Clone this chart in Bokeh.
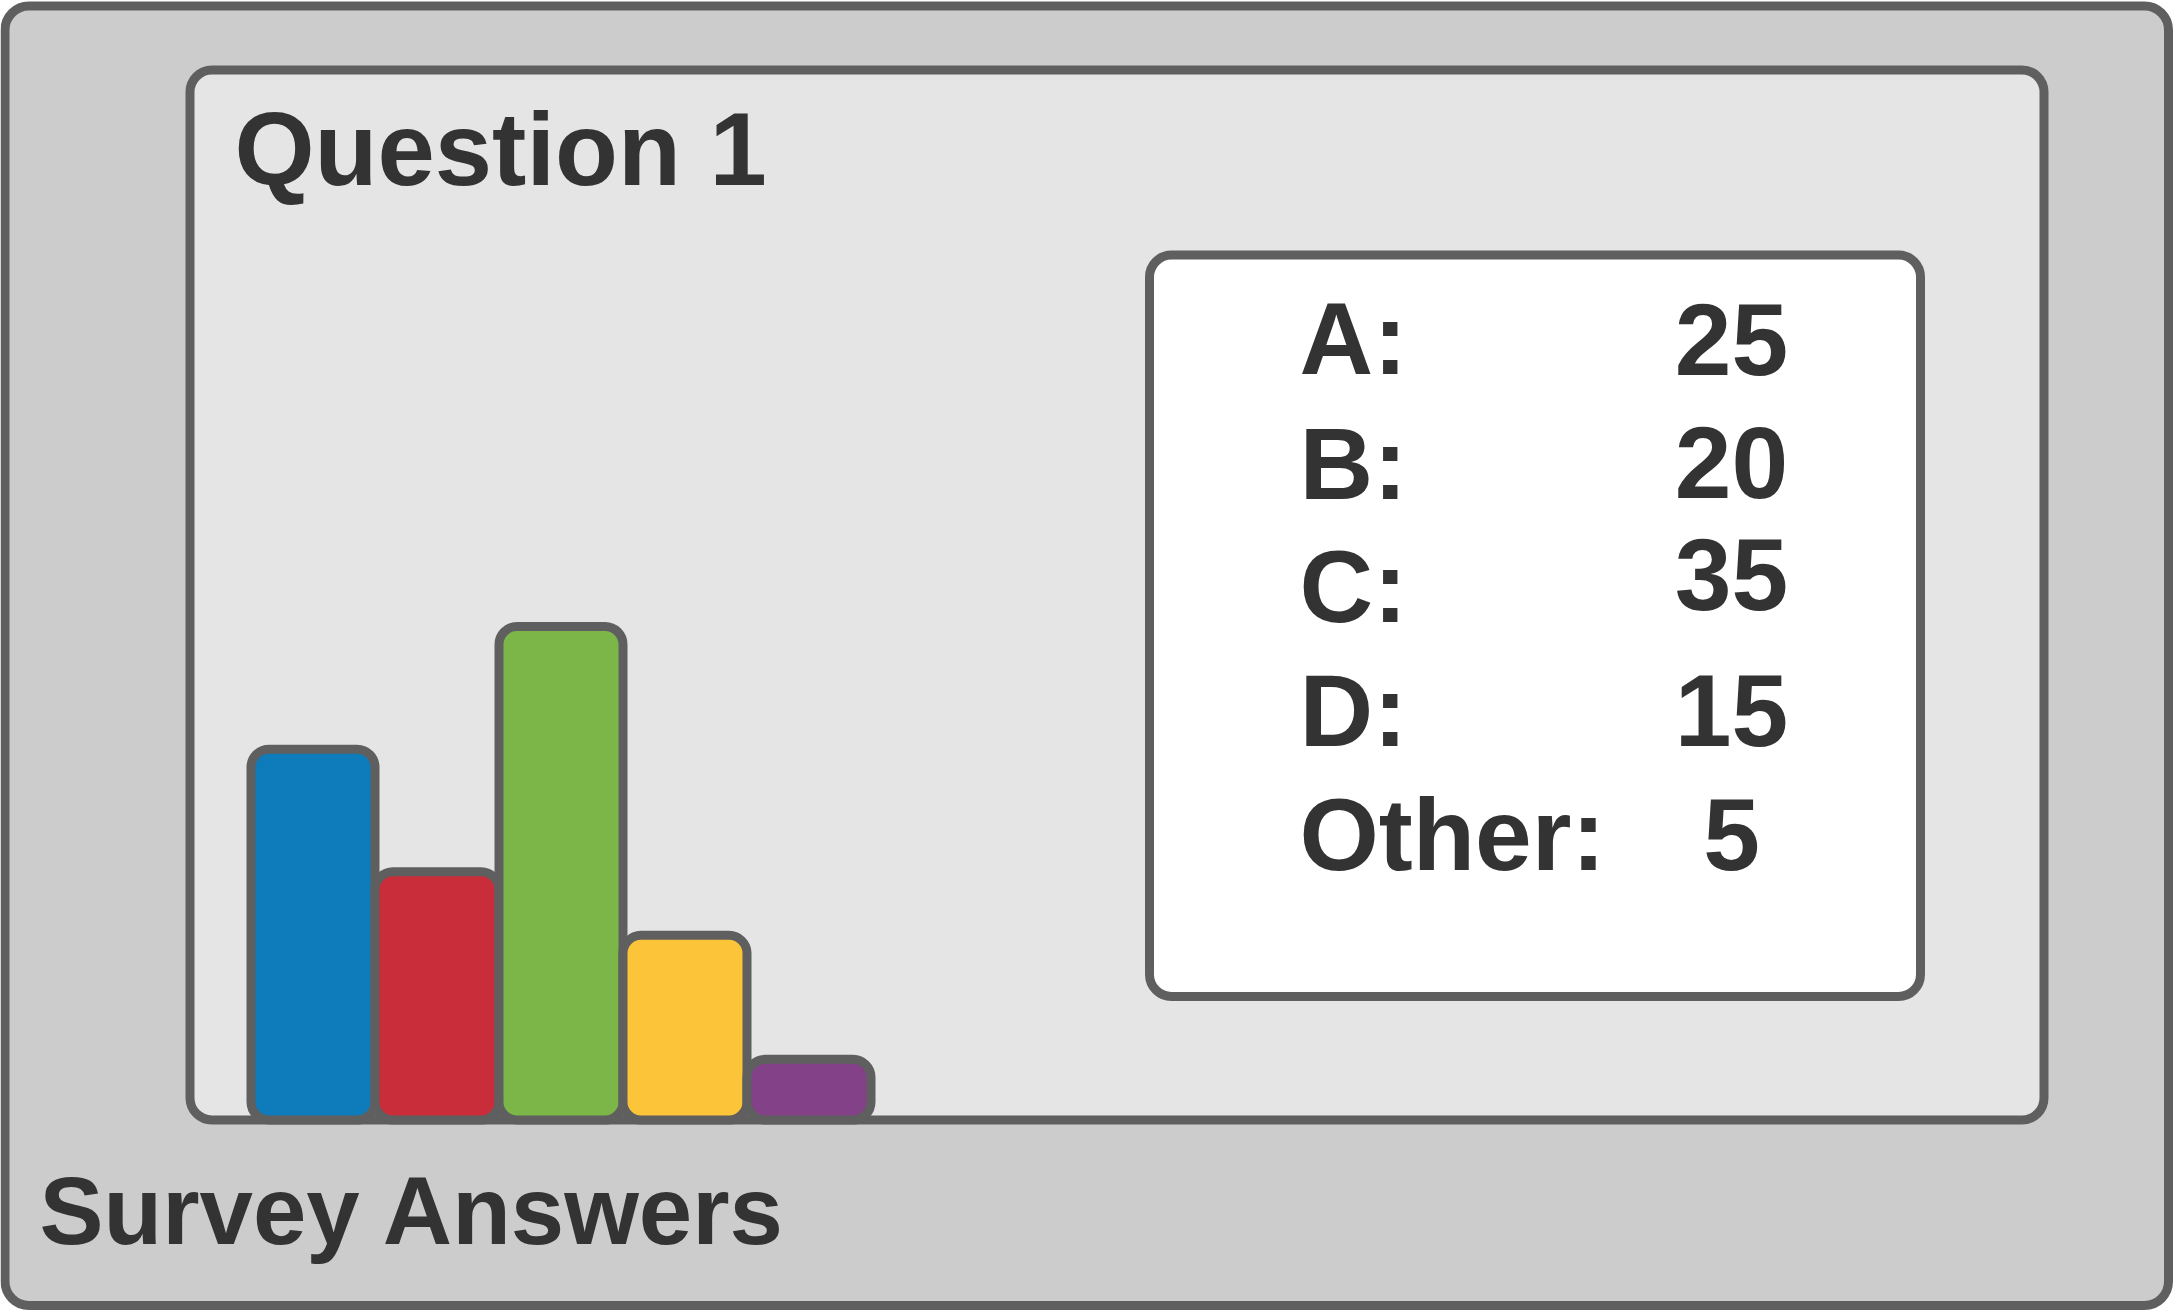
from bokeh.plotting import figure
from bokeh.models import Range1d
from bokeh.core.properties import value
from bokeh.embed import file_html
from bokeh.resources import INLINE

# ---- data ----
title_text = "Question 1"
footer_text = "Survey Answers"
answers = ["A", "B", "C", "D", "Other"]
answer_labels = ["A:", "B:", "C:", "D:", "Other:"]
answer_counts = [25, 20, 35, 15, 5]
# heights of the bars as drawn in the picture (in answer units)
bar_heights = [26.3, 17.6, 35.0, 13.1, 4.3]
bar_colors = ["#0E7BBA", "#C92D39", "#7DB648", "#FCC438", "#834187"]

# ---- layout (page pixels, y from top) ----
W, H = 2174, 1314
EDGE = "#5F5F5F"
TXT = "#333333"
LW = 9
SHIFT = 0.345  # correction between requested and drawn baseline, fraction of font size


def font():
    return value("Liberation Sans")


p = figure(width=W, height=H, x_range=Range1d(0, W), y_range=Range1d(H, 0),
           output_backend="svg", toolbar_location=None,
           x_axis_type=None, y_axis_type=None, min_border=0,
           outline_line_color=None, background_fill_color="white",
           border_fill_color="white")
p.grid.visible = False

# bar scales
bar_x0_px, bar_step_px = 312.5, 124.0
base_px, unit_px = 1119.5, 14.1
p.extra_x_ranges = {"bars": Range1d(-bar_x0_px / bar_step_px, (W - bar_x0_px) / bar_step_px)}
p.extra_y_ranges = {"bars": Range1d(-(H - base_px) / unit_px, base_px / unit_px)}

# outer panel
p.quad(left=[4.5], right=[2168], top=[5.5], bottom=[1305], fill_color="#CCCCCC",
       line_color=EDGE, line_width=LW, border_radius=24)
# inner panel
p.quad(left=[189.5], right=[2043.5], top=[69.5], bottom=[1119.5], fill_color="#E5E5E5",
       line_color=EDGE, line_width=LW, border_radius=22)
# legend box
p.quad(left=[1149], right=[1920], top=[254.5], bottom=[996], fill_color="white",
       line_color=EDGE, line_width=LW, border_radius=22)

# bars
idx = list(range(len(answers)))
p.vbar(x=idx, top=bar_heights, bottom=0, width=1, fill_color=bar_colors,
       line_color=EDGE, line_width=LW, border_radius=18,
       x_range_name="bars", y_range_name="bars")

# titles
t_size, f_size, l_size = 103, 96, 102
p.text(x=[234], y=[185 - SHIFT * t_size], text=[title_text], text_font=font(),
       text_font_style="bold", text_font_size="%dpx" % t_size, text_color=TXT,
       text_baseline="alphabetic", text_align="left")
p.text(x=[39], y=[1243 - SHIFT * f_size], text=[footer_text], text_font=font(),
       text_font_style="bold", text_font_size="%dpx" % f_size, text_color=TXT,
       text_baseline="alphabetic", text_align="left")

# legend rows
label_y = [374, 498.5, 621.5, 745.5, 870]
count_y = [374, 497, 609, 745.5, 869.5]
p.text(x=[1299] * len(answer_labels), y=[v - SHIFT * l_size for v in label_y],
       text=answer_labels, text_font=font(), text_font_style="bold",
       text_font_size="%dpx" % l_size, text_color=TXT,
       text_baseline="alphabetic", text_align="left")
p.text(x=[1731] * len(answer_counts), y=[v - SHIFT * l_size for v in count_y],
       text=[str(v) for v in answer_counts], text_font=font(), text_font_style="bold",
       text_font_size="%dpx" % l_size, text_color=TXT,
       text_baseline="alphabetic", text_align="center")

open("out.html", "w").write(file_html(p, INLINE))
